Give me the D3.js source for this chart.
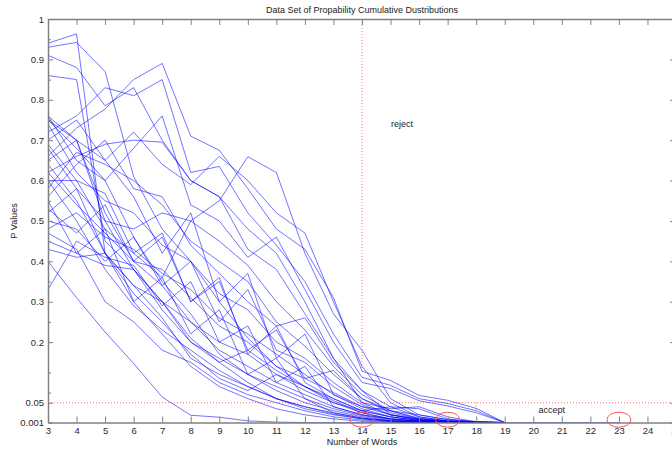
<!DOCTYPE html>
<meta charset="utf-8">
<head>
  <title>Data Set of Propability Cumulative Dustributions</title>
  <style>
    body { margin: 0; background: #fff; overflow: hidden; }
    #viz { display: block; font-family: "Liberation Sans", Arial, sans-serif; }
    .axis text { fill: #2a2a2a; font-size: 9.5px; }
    .axis line, .axis path { stroke: #808080; }
  </style>
</head>
<body>
  <svg id="viz" width="672" height="450"></svg>

  <script src="https://cdn.jsdelivr.net/npm/d3@7"></script>
  <script>
    // number of words, first point of every series
    var xStart = 3;
    var xTicks = [3, 4, 5, 6, 7, 8, 9, 10, 11, 12, 13, 14, 15, 16, 17, 18, 19, 20, 21, 22, 23, 24, 25];
    var yTicks = [0.001, 0.05, 0.2, 0.3, 0.4, 0.5, 0.6, 0.7, 0.8, 0.9, 1];
    var yMinorTicks = [0.075, 0.125, 0.25, 0.35, 0.45, 0.55, 0.65, 0.75, 0.85, 0.95];

    // p values per series, x = 3, 4, 5, ...
    var series = [
      [0.940, 0.963, 0.420, 0.300, 0.220, 0.140, 0.090, 0.060, 0.035, 0.020, 0.010, 0.004, 0.002, 0.001, 0.001, 0.001, 0.001],
      [0.930, 0.942, 0.870, 0.610, 0.480, 0.400, 0.300, 0.210, 0.140, 0.090, 0.050, 0.025, 0.010, 0.004, 0.002, 0.001, 0.001],
      [0.910, 0.880, 0.785, 0.830, 0.700, 0.600, 0.560, 0.480, 0.420, 0.300, 0.160, 0.080, 0.040, 0.015, 0.005, 0.002, 0.001],
      [0.860, 0.850, 0.450, 0.380, 0.300, 0.200, 0.150, 0.100, 0.060, 0.035, 0.020, 0.010, 0.005, 0.002, 0.001, 0.001, 0.001],
      [0.660, 0.730, 0.777, 0.850, 0.890, 0.710, 0.675, 0.580, 0.480, 0.430, 0.310, 0.128, 0.105, 0.068, 0.056, 0.036, 0.001],
      [0.720, 0.760, 0.830, 0.810, 0.850, 0.620, 0.635, 0.520, 0.440, 0.350, 0.220, 0.113, 0.093, 0.060, 0.048, 0.030, 0.001],
      [0.760, 0.650, 0.600, 0.680, 0.760, 0.540, 0.500, 0.410, 0.460, 0.330, 0.200, 0.100, 0.085, 0.055, 0.042, 0.025, 0.001],
      [0.620, 0.660, 0.690, 0.700, 0.695, 0.600, 0.560, 0.430, 0.380, 0.270, 0.160, 0.050, 0.020, 0.010, 0.005, 0.002, 0.001],
      [0.520, 0.580, 0.500, 0.480, 0.520, 0.500, 0.550, 0.659, 0.620, 0.420, 0.270, 0.180, 0.060, 0.020, 0.008, 0.003, 0.001],
      [0.750, 0.700, 0.650, 0.720, 0.640, 0.590, 0.660, 0.600, 0.520, 0.470, 0.300, 0.140, 0.050, 0.015, 0.005, 0.002, 0.001],
      [0.600, 0.600, 0.568, 0.420, 0.470, 0.300, 0.360, 0.170, 0.240, 0.100, 0.060, 0.030, 0.015, 0.006, 0.002, 0.001, 0.001],
      [0.760, 0.700, 0.500, 0.380, 0.280, 0.200, 0.160, 0.120, 0.080, 0.050, 0.030, 0.015, 0.006, 0.002, 0.001, 0.001, 0.001],
      [0.750, 0.680, 0.600, 0.460, 0.350, 0.270, 0.170, 0.120, 0.090, 0.060, 0.035, 0.018, 0.008, 0.003, 0.001, 0.001, 0.001],
      [0.700, 0.750, 0.650, 0.560, 0.420, 0.520, 0.300, 0.370, 0.160, 0.220, 0.070, 0.040, 0.020, 0.008, 0.003, 0.001, 0.001],
      [0.650, 0.700, 0.520, 0.400, 0.340, 0.250, 0.200, 0.170, 0.120, 0.080, 0.050, 0.030, 0.015, 0.006, 0.002, 0.001, 0.001],
      [0.580, 0.670, 0.640, 0.600, 0.540, 0.450, 0.400, 0.350, 0.250, 0.190, 0.120, 0.060, 0.030, 0.012, 0.004, 0.001, 0.001],
      [0.550, 0.420, 0.480, 0.300, 0.360, 0.220, 0.280, 0.120, 0.160, 0.060, 0.025, 0.012, 0.005, 0.002, 0.001, 0.001, 0.001],
      [0.450, 0.420, 0.390, 0.380, 0.300, 0.250, 0.180, 0.140, 0.100, 0.070, 0.040, 0.020, 0.010, 0.004, 0.001, 0.001, 0.001],
      [0.430, 0.410, 0.420, 0.340, 0.260, 0.160, 0.120, 0.090, 0.060, 0.040, 0.025, 0.012, 0.005, 0.002, 0.001, 0.001, 0.001],
      [0.400, 0.310, 0.225, 0.147, 0.064, 0.019, 0.014, 0.005, 0.002, 0.001, 0.001, 0.001, 0.001, 0.001, 0.001, 0.001, 0.001, 0.001, 0.001, 0.001, 0.001],
      [0.330, 0.450, 0.410, 0.390, 0.290, 0.350, 0.200, 0.240, 0.100, 0.140, 0.040, 0.020, 0.010, 0.004, 0.001, 0.001, 0.001],
      [0.480, 0.520, 0.460, 0.430, 0.370, 0.330, 0.260, 0.220, 0.170, 0.120, 0.070, 0.035, 0.015, 0.006, 0.002, 0.001, 0.001],
      [0.690, 0.600, 0.480, 0.420, 0.360, 0.500, 0.450, 0.390, 0.300, 0.230, 0.140, 0.070, 0.030, 0.010, 0.003, 0.001, 0.001],
      [0.640, 0.550, 0.420, 0.340, 0.300, 0.210, 0.150, 0.180, 0.130, 0.090, 0.055, 0.025, 0.010, 0.004, 0.001, 0.001, 0.001],
      [0.600, 0.500, 0.380, 0.290, 0.230, 0.180, 0.130, 0.090, 0.060, 0.040, 0.022, 0.010, 0.004, 0.002, 0.001, 0.001, 0.001],
      [0.560, 0.640, 0.700, 0.580, 0.560, 0.440, 0.370, 0.300, 0.240, 0.260, 0.150, 0.080, 0.020, 0.008, 0.003, 0.001, 0.001],
      [0.500, 0.480, 0.400, 0.460, 0.340, 0.400, 0.250, 0.330, 0.180, 0.150, 0.090, 0.045, 0.020, 0.008, 0.003, 0.001, 0.001],
      [0.680, 0.580, 0.420, 0.320, 0.250, 0.170, 0.110, 0.080, 0.120, 0.090, 0.060, 0.030, 0.040, 0.035, 0.010, 0.002, 0.001],
      [0.470, 0.430, 0.300, 0.250, 0.180, 0.150, 0.100, 0.070, 0.050, 0.030, 0.015, 0.007, 0.003, 0.001, 0.001, 0.001, 0.001],
      [0.740, 0.620, 0.550, 0.520, 0.440, 0.400, 0.320, 0.280, 0.200, 0.160, 0.100, 0.050, 0.035, 0.040, 0.015, 0.003, 0.001],
      [0.530, 0.470, 0.540, 0.400, 0.460, 0.300, 0.350, 0.180, 0.230, 0.110, 0.130, 0.060, 0.025, 0.010, 0.004, 0.001, 0.001],
      [0.620, 0.540, 0.470, 0.400, 0.380, 0.310, 0.240, 0.200, 0.140, 0.110, 0.075, 0.040, 0.030, 0.020, 0.008, 0.002, 0.001]
    ];

    // marked words (red circles) and the limits
    var marked = [14, 17, 23];
    var markY = 0.008;
    var pLimit = 0.05;
    var wordLimit = 14;
    var wordLimitTop = 0.13;
    var shortLimit = 18;
    var shortLimitLow = 0.027;

    var svg = d3.select("#viz");
    var x = d3.scaleLinear().domain([3, 25]).range([48, 676]);
    var y = d3.scaleLinear().domain([0.001, 1]).range([422.5, 19]);

    var line = d3.line()
      .x((d, i) => x(xStart + i))
      .y(d => y(d));

    // limit lines
    var red = "#ff7070";
    svg.append("line")
      .attr("x1", x(3)).attr("x2", x(25))
      .attr("y1", y(pLimit)).attr("y2", y(pLimit))
      .attr("stroke", red).attr("stroke-dasharray", "1,2");
    svg.append("line")
      .attr("x1", x(wordLimit)).attr("x2", x(wordLimit))
      .attr("y1", y(1)).attr("y2", y(wordLimitTop))
      .attr("stroke", red).attr("stroke-dasharray", "1,2");
    svg.append("line")
      .attr("x1", x(shortLimit)).attr("x2", x(shortLimit))
      .attr("y1", y(pLimit)).attr("y2", y(shortLimitLow))
      .attr("stroke", red).attr("stroke-dasharray", "1,2");

    // series
    svg.append("g")
      .selectAll("path")
      .data(series)
      .enter()
      .append("path")
      .attr("d", line)
      .attr("fill", "none")
      .attr("stroke", "#0000ff")
      .attr("stroke-opacity", 0.55)
      .attr("stroke-width", 1);

    // axes (ticks inside, box all round)
    svg.append("g").attr("class", "axis")
      .attr("transform", "translate(0," + y(0.001) + ")")
      .call(d3.axisBottom(x).tickValues(xTicks).tickFormat(d3.format("d"))
        .tickSizeInner(-6).tickSizeOuter(0).tickPadding(5));
    svg.append("g").attr("class", "axis")
      .attr("transform", "translate(0," + y(1) + ")")
      .call(d3.axisTop(x).tickValues(xTicks).tickFormat("")
        .tickSizeInner(-6).tickSizeOuter(0));
    svg.append("g").attr("class", "axis")
      .attr("transform", "translate(" + x(3) + ",0)")
      .call(d3.axisLeft(y).tickValues(yTicks).tickFormat(d => String(d))
        .tickSizeInner(-5).tickSizeOuter(0).tickPadding(4));
    svg.append("g").attr("class", "axis")
      .attr("transform", "translate(" + x(3) + ",0)")
      .call(d3.axisLeft(y).tickValues(yMinorTicks).tickFormat("")
        .tickSizeInner(-3).tickSizeOuter(0))
      .select(".domain").remove();
    svg.append("g").attr("class", "axis")
      .attr("transform", "translate(" + x(25) + ",0)")
      .call(d3.axisRight(y).tickValues(yTicks).tickFormat("")
        .tickSizeInner(-6).tickSizeOuter(0));
    svg.selectAll(".axis .domain").attr("stroke-width", 1.5);

    // red circles
    svg.append("g")
      .selectAll("ellipse")
      .data(marked)
      .enter()
      .append("ellipse")
      .attr("cx", d => x(d))
      .attr("cy", y(markY))
      .attr("rx", 12)
      .attr("ry", 7.5)
      .attr("fill", "none")
      .attr("stroke", "#ff5050")
      .attr("stroke-width", 1);

    // texts
    svg.append("text")
      .attr("x", (x(3) + x(25)) / 2).attr("y", 13)
      .attr("text-anchor", "middle").attr("font-size", "9px").attr("fill", "#222")
      .text("Data Set of Propability Cumulative Dustributions");
    svg.append("text")
      .attr("x", x(14)).attr("y", 445)
      .attr("text-anchor", "middle").attr("font-size", "9px").attr("fill", "#222")
      .text("Number of Words");
    svg.append("text")
      .attr("transform", "translate(17," + y(0.5) + ") rotate(-90)")
      .attr("text-anchor", "middle").attr("font-size", "9px").attr("fill", "#222")
      .text("P Values");
    svg.append("text")
      .attr("x", x(15.4)).attr("y", 127)
      .attr("text-anchor", "middle").attr("font-size", "9px").attr("fill", "#222")
      .text("reject");
    svg.append("text")
      .attr("x", x(20.65)).attr("y", 413)
      .attr("text-anchor", "middle").attr("font-size", "9px").attr("fill", "#222")
      .text("accept");
  </script>
</body>
</html>
